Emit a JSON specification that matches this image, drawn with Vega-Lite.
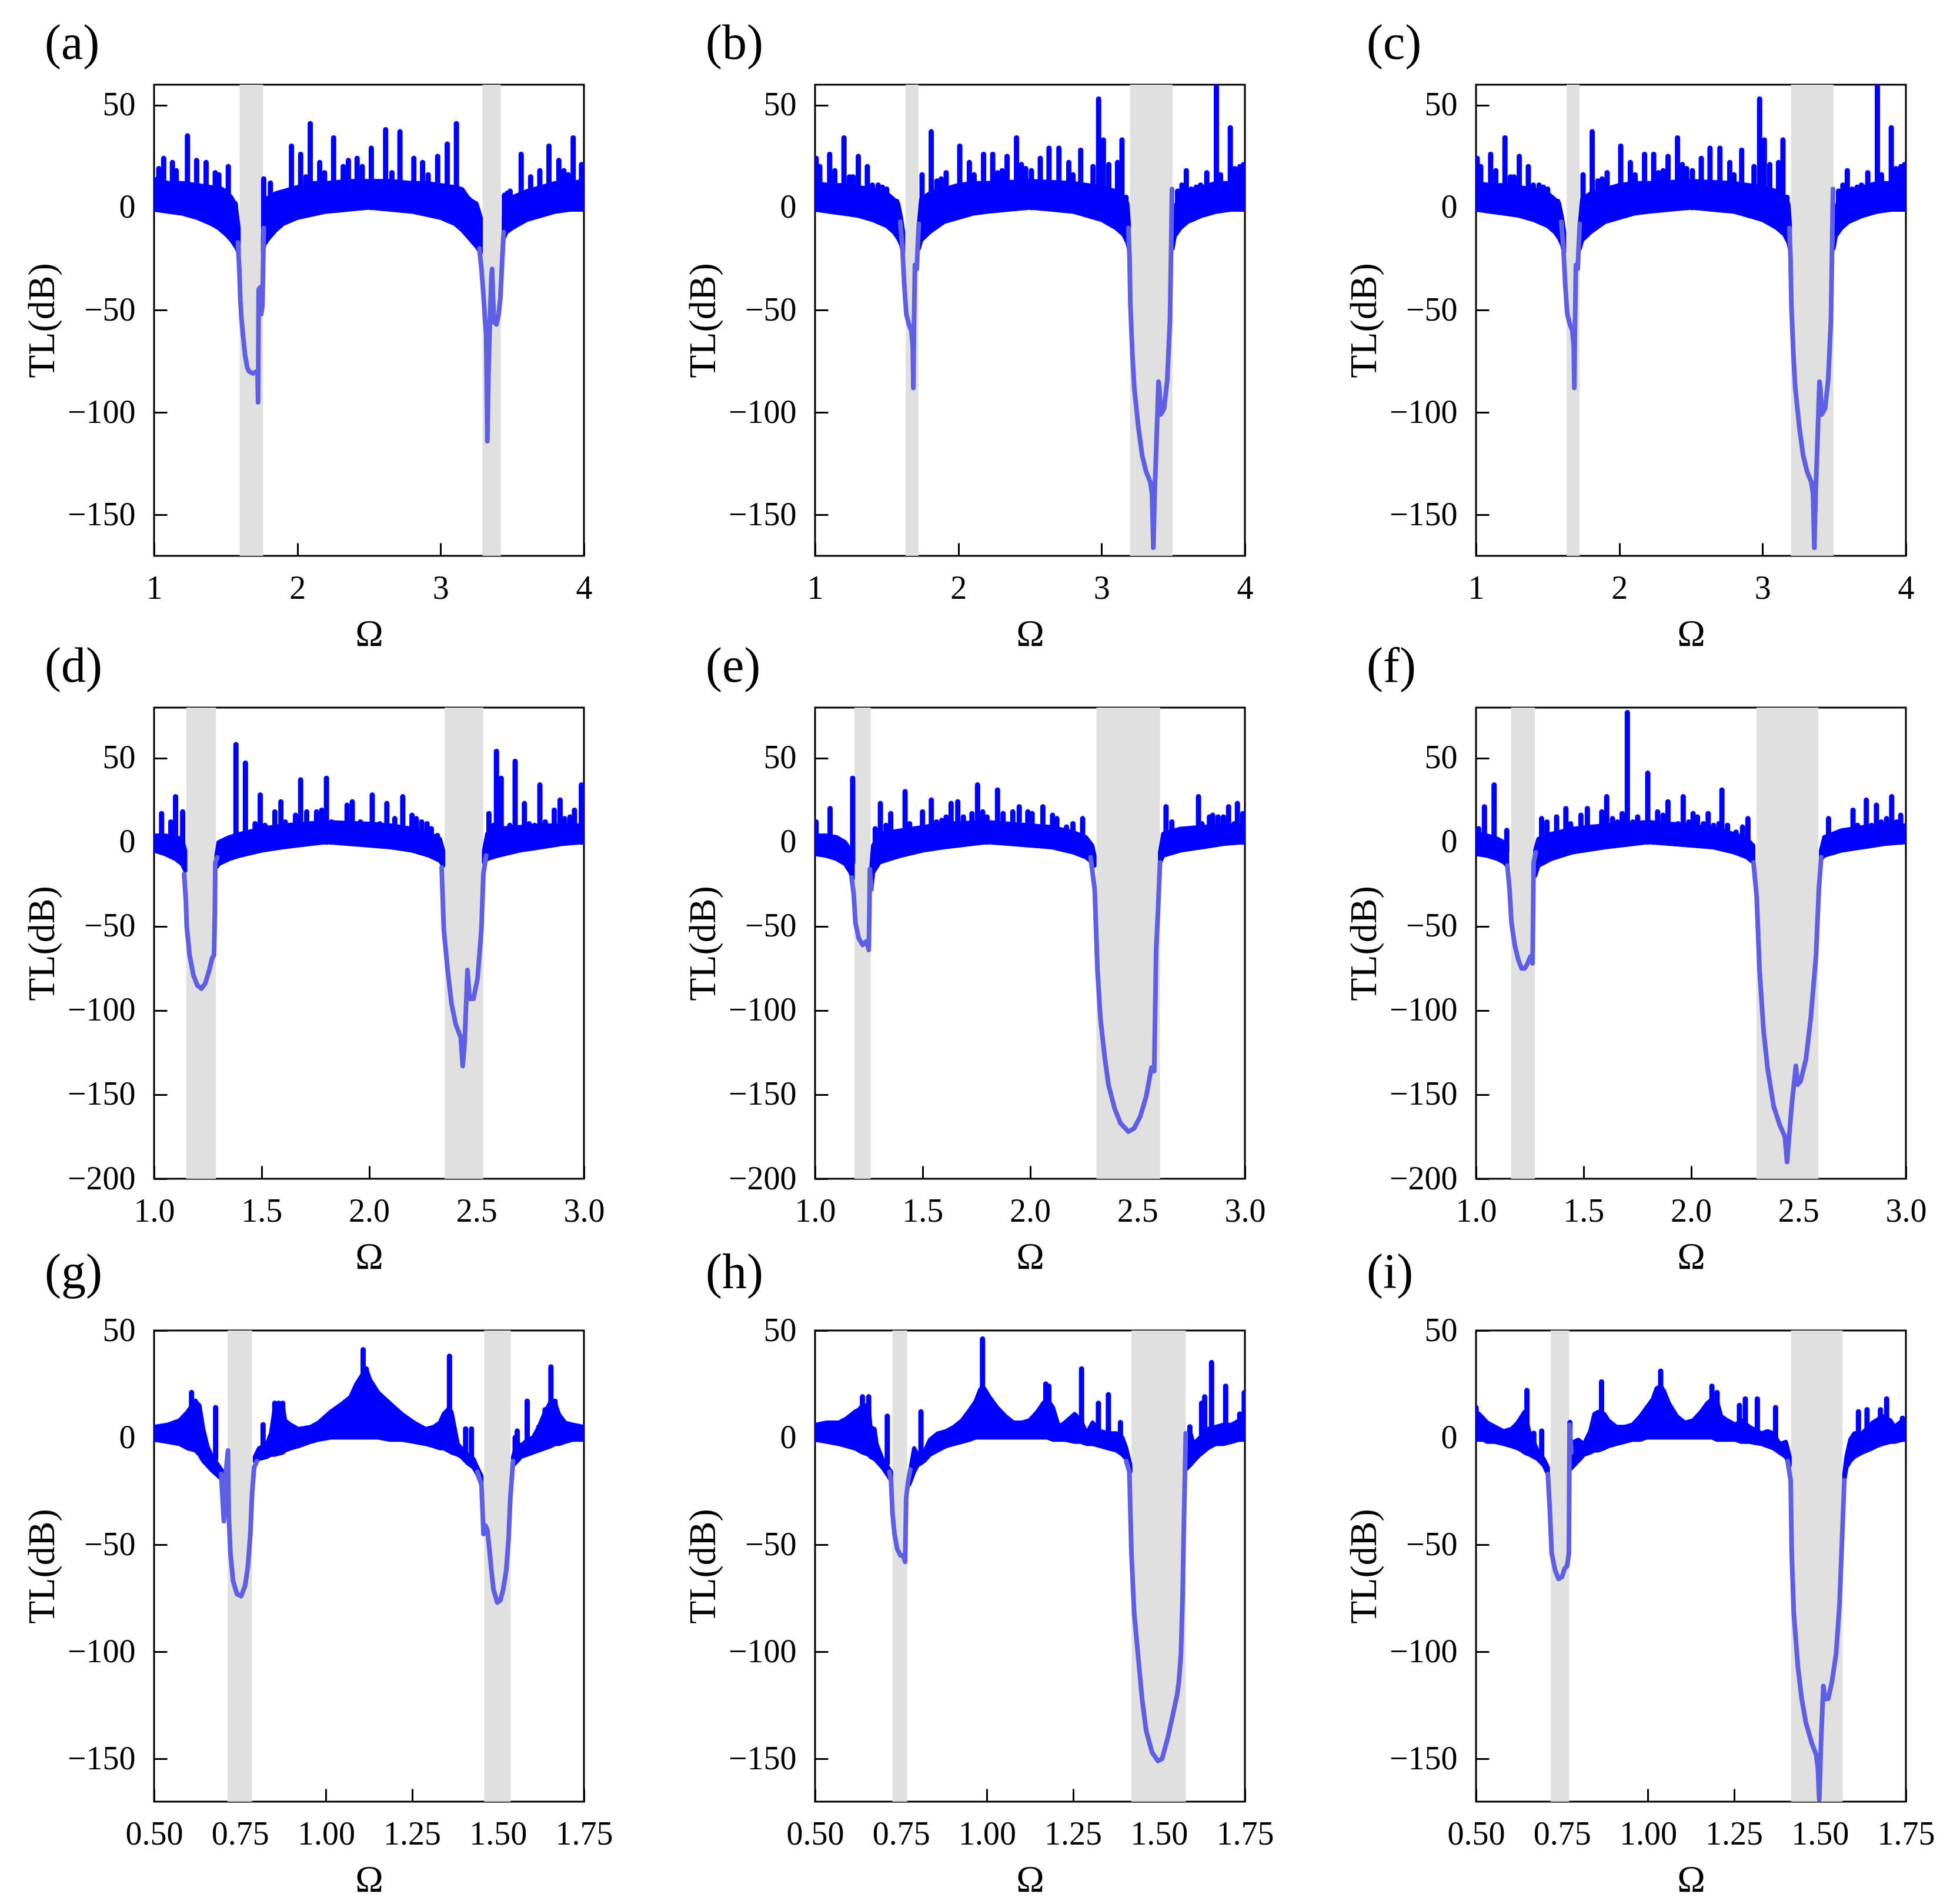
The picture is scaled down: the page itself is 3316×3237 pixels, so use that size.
{
"$schema":"https://vega.github.io/schema/vega-lite/v6.json",
"padding":{"left":38,"top":31,"right":20,"bottom":20},
"background":"white",
"config":{
 "font":"Liberation Serif",
 "view":{"stroke":"#000000","strokeWidth":3},
 "axis":{"domain":false,"grid":false,"tickColor":"#000000","tickWidth":3,"tickSize":-22,"labelFont":"Liberation Serif","labelFontSize":56,"labelColor":"#000000","labelFlush":false,"labelOverlap":false,"titleFont":"Liberation Serif","titleFontSize":64,"titleFontWeight":"normal","titleColor":"#000000"},
 "axisX":{"labelPadding":50,"titlePadding":18},
 "axisY":{"labelPadding":54,"titlePadding":10},
 "title":{"font":"Liberation Serif","fontSize":84,"fontWeight":"normal","color":"#000000","anchor":"start","frame":"group","dx":-186,"offset":26}
},
"datasets":{
"bnd":[
{"p":"a","x":1.597,"x2":1.761},{"p":"a","x":3.292,"x2":3.420},
{"p":"b","x":1.632,"x2":1.722},{"p":"b","x":3.198,"x2":3.495},
{"p":"d","x":1.150,"x2":1.288},{"p":"d","x":2.352,"x2":2.532},
{"p":"e","x":1.183,"x2":1.259},{"p":"e","x":2.309,"x2":2.605},
{"p":"f","x":1.163,"x2":1.274},{"p":"f","x":2.305,"x2":2.593},
{"p":"g","x":0.714,"x2":0.785},{"p":"g","x":1.460,"x2":1.537},
{"p":"h","x":0.725,"x2":0.768},{"p":"h","x":1.420,"x2":1.578},
{"p":"i","x":0.717,"x2":0.771},{"p":"i","x":1.416,"x2":1.566}
],
"env":[
{"p":"a","s":1,"x":1.0,"y":-1,"y2":14},{"p":"a","s":1,"x":1.1,"y":-2,"y2":12},{"p":"a","s":1,"x":1.2,"y":-3,"y2":12},{"p":"a","s":1,"x":1.3,"y":-5,"y2":11},{"p":"a","s":1,"x":1.4,"y":-8,"y2":10},{"p":"a","s":1,"x":1.45,"y":-10,"y2":10},{"p":"a","s":1,"x":1.5,"y":-13,"y2":8},{"p":"a","s":1,"x":1.54,"y":-16,"y2":5},{"p":"a","s":1,"x":1.57,"y":-19,"y2":1},{"p":"a","s":1,"x":1.59,"y":-22,"y2":-10},
{"p":"a","s":2,"x":1.76,"y":-22,"y2":-15},{"p":"a","s":2,"x":1.77,"y":-18,"y2":4},{"p":"a","s":2,"x":1.8,"y":-15,"y2":5},{"p":"a","s":2,"x":1.85,"y":-11,"y2":7},{"p":"a","s":2,"x":1.9,"y":-8,"y2":8},{"p":"a","s":2,"x":2.0,"y":-5,"y2":10},{"p":"a","s":2,"x":2.1,"y":-3.5,"y2":12},{"p":"a","s":2,"x":2.2,"y":-2,"y2":12},{"p":"a","s":2,"x":2.35,"y":-1,"y2":13},{"p":"a","s":2,"x":2.5,"y":0,"y2":13},{"p":"a","s":2,"x":2.65,"y":-1,"y2":13},{"p":"a","s":2,"x":2.8,"y":-2,"y2":12},{"p":"a","s":2,"x":2.9,"y":-3.5,"y2":12},{"p":"a","s":2,"x":3.0,"y":-5,"y2":11},{"p":"a","s":2,"x":3.1,"y":-8,"y2":10},{"p":"a","s":2,"x":3.15,"y":-11,"y2":9},{"p":"a","s":2,"x":3.2,"y":-15,"y2":4},{"p":"a","s":2,"x":3.25,"y":-19,"y2":2},{"p":"a","s":2,"x":3.28,"y":-22,"y2":-5},
{"p":"a","s":3,"x":3.44,"y":-15,"y2":-5},{"p":"a","s":3,"x":3.46,"y":-12,"y2":3},{"p":"a","s":3,"x":3.5,"y":-10,"y2":5},{"p":"a","s":3,"x":3.6,"y":-6,"y2":8},{"p":"a","s":3,"x":3.7,"y":-4,"y2":10},{"p":"a","s":3,"x":3.8,"y":-2,"y2":12},{"p":"a","s":3,"x":3.9,"y":-1,"y2":12},{"p":"a","s":3,"x":4.0,"y":-1,"y2":13},
{"p":"b","s":1,"x":1.0,"y":-1,"y2":12},{"p":"b","s":1,"x":1.1,"y":-2,"y2":11},{"p":"b","s":1,"x":1.2,"y":-3,"y2":11},{"p":"b","s":1,"x":1.3,"y":-4,"y2":10},{"p":"b","s":1,"x":1.4,"y":-6,"y2":9},{"p":"b","s":1,"x":1.5,"y":-9,"y2":7},{"p":"b","s":1,"x":1.55,"y":-12,"y2":4},{"p":"b","s":1,"x":1.58,"y":-15,"y2":2},{"p":"b","s":1,"x":1.6,"y":-18,"y2":-5},{"p":"b","s":1,"x":1.615,"y":-22,"y2":-12},
{"p":"b","s":2,"x":1.725,"y":-20,"y2":-8},{"p":"b","s":2,"x":1.74,"y":-16,"y2":4},{"p":"b","s":2,"x":1.8,"y":-12,"y2":7},{"p":"b","s":2,"x":1.9,"y":-7,"y2":9},{"p":"b","s":2,"x":2.0,"y":-5,"y2":11},{"p":"b","s":2,"x":2.1,"y":-3,"y2":12},{"p":"b","s":2,"x":2.2,"y":-2,"y2":12},{"p":"b","s":2,"x":2.5,"y":0,"y2":13},{"p":"b","s":2,"x":2.8,"y":-2,"y2":12},{"p":"b","s":2,"x":2.9,"y":-4,"y2":11},{"p":"b","s":2,"x":3.0,"y":-6,"y2":10},{"p":"b","s":2,"x":3.1,"y":-10,"y2":8},{"p":"b","s":2,"x":3.15,"y":-13,"y2":5},{"p":"b","s":2,"x":3.18,"y":-17,"y2":2},{"p":"b","s":2,"x":3.19,"y":-20,"y2":-8},
{"p":"b","s":3,"x":3.495,"y":-20,"y2":-10},{"p":"b","s":3,"x":3.51,"y":-14,"y2":0},{"p":"b","s":3,"x":3.55,"y":-10,"y2":6},{"p":"b","s":3,"x":3.6,"y":-7,"y2":8},{"p":"b","s":3,"x":3.7,"y":-4,"y2":10},{"p":"b","s":3,"x":3.8,"y":-2,"y2":12},{"p":"b","s":3,"x":3.9,"y":-1,"y2":12},{"p":"b","s":3,"x":4.0,"y":-1,"y2":13},
{"p":"d","s":1,"x":1.0,"y":-5,"y2":4},{"p":"d","s":1,"x":1.05,"y":-7,"y2":4},{"p":"d","s":1,"x":1.1,"y":-10,"y2":3},{"p":"d","s":1,"x":1.13,"y":-13,"y2":2},{"p":"d","s":1,"x":1.145,"y":-17,"y2":-5},
{"p":"d","s":2,"x":1.29,"y":-15,"y2":-8},{"p":"d","s":2,"x":1.30,"y":-13,"y2":0},{"p":"d","s":2,"x":1.35,"y":-10,"y2":3},{"p":"d","s":2,"x":1.4,"y":-8,"y2":5},{"p":"d","s":2,"x":1.5,"y":-5,"y2":8},{"p":"d","s":2,"x":1.6,"y":-3,"y2":10},{"p":"d","s":2,"x":1.8,"y":0,"y2":12},{"p":"d","s":2,"x":2.0,"y":-2,"y2":11},{"p":"d","s":2,"x":2.1,"y":-3,"y2":10},{"p":"d","s":2,"x":2.2,"y":-5,"y2":8},{"p":"d","s":2,"x":2.28,"y":-8,"y2":5},{"p":"d","s":2,"x":2.33,"y":-11,"y2":2},{"p":"d","s":2,"x":2.345,"y":-14,"y2":-5},
{"p":"d","s":3,"x":2.535,"y":-12,"y2":-5},{"p":"d","s":3,"x":2.55,"y":-10,"y2":5},{"p":"d","s":3,"x":2.6,"y":-8,"y2":8},{"p":"d","s":3,"x":2.7,"y":-5,"y2":9},{"p":"d","s":3,"x":2.8,"y":-3,"y2":10},{"p":"d","s":3,"x":2.9,"y":-1,"y2":10},{"p":"d","s":3,"x":3.0,"y":0,"y2":10},
{"p":"e","s":1,"x":1.0,"y":-7,"y2":4},{"p":"e","s":1,"x":1.05,"y":-8,"y2":4},{"p":"e","s":1,"x":1.1,"y":-10,"y2":3},{"p":"e","s":1,"x":1.14,"y":-13,"y2":0},{"p":"e","s":1,"x":1.165,"y":-18,"y2":-5},{"p":"e","s":1,"x":1.175,"y":-22,"y2":-10},
{"p":"e","s":2,"x":1.262,"y":-28,"y2":-15},{"p":"e","s":2,"x":1.27,"y":-18,"y2":-2},{"p":"e","s":2,"x":1.3,"y":-12,"y2":5},{"p":"e","s":2,"x":1.4,"y":-8,"y2":7},{"p":"e","s":2,"x":1.5,"y":-5,"y2":9},{"p":"e","s":2,"x":1.6,"y":-3,"y2":11},{"p":"e","s":2,"x":1.8,"y":0,"y2":12},{"p":"e","s":2,"x":2.0,"y":-2,"y2":10},{"p":"e","s":2,"x":2.1,"y":-3,"y2":9},{"p":"e","s":2,"x":2.2,"y":-6,"y2":6},{"p":"e","s":2,"x":2.26,"y":-9,"y2":3},{"p":"e","s":2,"x":2.29,"y":-12,"y2":-2},{"p":"e","s":2,"x":2.30,"y":-14,"y2":-8},
{"p":"e","s":3,"x":2.605,"y":-12,"y2":-6},{"p":"e","s":3,"x":2.62,"y":-8,"y2":5},{"p":"e","s":3,"x":2.7,"y":-5,"y2":8},{"p":"e","s":3,"x":2.8,"y":-3,"y2":9},{"p":"e","s":3,"x":2.9,"y":-1,"y2":10},{"p":"e","s":3,"x":3.0,"y":0,"y2":10},
{"p":"f","s":1,"x":1.0,"y":-7,"y2":5},{"p":"f","s":1,"x":1.05,"y":-8,"y2":4},{"p":"f","s":1,"x":1.1,"y":-10,"y2":2},{"p":"f","s":1,"x":1.13,"y":-12,"y2":0},{"p":"f","s":1,"x":1.145,"y":-14,"y2":-3},
{"p":"f","s":2,"x":1.275,"y":-20,"y2":-5},{"p":"f","s":2,"x":1.29,"y":-14,"y2":2},{"p":"f","s":2,"x":1.35,"y":-10,"y2":5},{"p":"f","s":2,"x":1.45,"y":-6,"y2":8},{"p":"f","s":2,"x":1.6,"y":-3,"y2":10},{"p":"f","s":2,"x":1.8,"y":0,"y2":12},{"p":"f","s":2,"x":2.0,"y":-2,"y2":10},{"p":"f","s":2,"x":2.1,"y":-3,"y2":8},{"p":"f","s":2,"x":2.2,"y":-6,"y2":5},{"p":"f","s":2,"x":2.26,"y":-9,"y2":2},{"p":"f","s":2,"x":2.29,"y":-12,"y2":-2},
{"p":"f","s":3,"x":2.605,"y":-10,"y2":-5},{"p":"f","s":3,"x":2.62,"y":-8,"y2":3},{"p":"f","s":3,"x":2.7,"y":-5,"y2":7},{"p":"f","s":3,"x":2.8,"y":-3,"y2":9},{"p":"f","s":3,"x":2.9,"y":-1,"y2":10},{"p":"f","s":3,"x":3.0,"y":0,"y2":10},
{"p":"g","s":1,"x":0.5,"y":-1,"y2":5},{"p":"g","s":1,"x":0.539,"y":-2,"y2":6},{"p":"g","s":1,"x":0.574,"y":-3,"y2":8},{"p":"g","s":1,"x":0.597,"y":-5,"y2":12},{"p":"g","s":1,"x":0.620,"y":-6,"y2":17},{"p":"g","s":1,"x":0.632,"y":-8,"y2":15},{"p":"g","s":1,"x":0.643,"y":-11,"y2":4},{"p":"g","s":1,"x":0.655,"y":-13,"y2":-4},{"p":"g","s":1,"x":0.666,"y":-15,"y2":-8},{"p":"g","s":1,"x":0.687,"y":-18,"y2":-13},{"p":"g","s":1,"x":0.700,"y":-20,"y2":-16},
{"p":"g","s":2,"x":0.793,"y":-11,"y2":-9},{"p":"g","s":2,"x":0.805,"y":-10,"y2":-5},{"p":"g","s":2,"x":0.828,"y":-9,"y2":-3},{"p":"g","s":2,"x":0.840,"y":-8,"y2":2},{"p":"g","s":2,"x":0.851,"y":-8,"y2":14},{"p":"g","s":2,"x":0.874,"y":-7,"y2":15},{"p":"g","s":2,"x":0.881,"y":-6,"y2":8},{"p":"g","s":2,"x":0.897,"y":-5,"y2":6},{"p":"g","s":2,"x":0.920,"y":-4,"y2":4},{"p":"g","s":2,"x":0.955,"y":-2,"y2":5},{"p":"g","s":2,"x":0.978,"y":-1,"y2":7},{"p":"g","s":2,"x":1.013,"y":0,"y2":12},{"p":"g","s":2,"x":1.048,"y":0,"y2":16},{"p":"g","s":2,"x":1.071,"y":0,"y2":19},{"p":"g","s":2,"x":1.088,"y":0,"y2":25},{"p":"g","s":2,"x":1.100,"y":0,"y2":28},{"p":"g","s":2,"x":1.108,"y":0,"y2":30},{"p":"g","s":2,"x":1.117,"y":0,"y2":32},{"p":"g","s":2,"x":1.128,"y":0,"y2":27},{"p":"g","s":2,"x":1.152,"y":0,"y2":21},{"p":"g","s":2,"x":1.186,"y":-1,"y2":16},{"p":"g","s":2,"x":1.221,"y":-1,"y2":11},{"p":"g","s":2,"x":1.256,"y":-2,"y2":7},{"p":"g","s":2,"x":1.290,"y":-3,"y2":4},{"p":"g","s":2,"x":1.313,"y":-4,"y2":5},{"p":"g","s":2,"x":1.331,"y":-5,"y2":7},{"p":"g","s":2,"x":1.342,"y":-5,"y2":11},{"p":"g","s":2,"x":1.354,"y":-6,"y2":13},{"p":"g","s":2,"x":1.365,"y":-7,"y2":12},{"p":"g","s":2,"x":1.383,"y":-8,"y2":-3},{"p":"g","s":2,"x":1.394,"y":-9,"y2":-5},{"p":"g","s":2,"x":1.412,"y":-12,"y2":-8},{"p":"g","s":2,"x":1.429,"y":-14,"y2":-10},{"p":"g","s":2,"x":1.440,"y":-17,"y2":-14},{"p":"g","s":2,"x":1.452,"y":-22,"y2":-18},
{"p":"g","s":3,"x":1.544,"y":-13,"y2":-9},{"p":"g","s":3,"x":1.556,"y":-11,"y2":-2},{"p":"g","s":3,"x":1.567,"y":-9,"y2":-4},{"p":"g","s":3,"x":1.585,"y":-8,"y2":-1},{"p":"g","s":3,"x":1.602,"y":-7,"y2":0},{"p":"g","s":3,"x":1.619,"y":-6,"y2":5},{"p":"g","s":3,"x":1.637,"y":-5,"y2":12},{"p":"g","s":3,"x":1.654,"y":-4,"y2":17},{"p":"g","s":3,"x":1.666,"y":-3,"y2":16},{"p":"g","s":3,"x":1.677,"y":-3,"y2":11},{"p":"g","s":3,"x":1.695,"y":-2,"y2":7},{"p":"g","s":3,"x":1.718,"y":-1,"y2":6},{"p":"g","s":3,"x":1.75,"y":-1,"y2":5},
{"p":"h","s":1,"x":0.5,"y":-1,"y2":6},{"p":"h","s":1,"x":0.535,"y":-2,"y2":7},{"p":"h","s":1,"x":0.569,"y":-3,"y2":7},{"p":"h","s":1,"x":0.592,"y":-4,"y2":9},{"p":"h","s":1,"x":0.615,"y":-5,"y2":12},{"p":"h","s":1,"x":0.627,"y":-6,"y2":13},{"p":"h","s":1,"x":0.638,"y":-7,"y2":15},{"p":"h","s":1,"x":0.656,"y":-8,"y2":15},{"p":"h","s":1,"x":0.661,"y":-9,"y2":5},{"p":"h","s":1,"x":0.673,"y":-10,"y2":4},{"p":"h","s":1,"x":0.679,"y":-11,"y2":-3},{"p":"h","s":1,"x":0.696,"y":-14,"y2":-10},{"p":"h","s":1,"x":0.713,"y":-18,"y2":-14},{"p":"h","s":1,"x":0.721,"y":-20,"y2":-16},
{"p":"h","s":2,"x":0.774,"y":-22,"y2":-18},{"p":"h","s":2,"x":0.788,"y":-16,"y2":-5},{"p":"h","s":2,"x":0.798,"y":-13,"y2":-8},{"p":"h","s":2,"x":0.817,"y":-11,"y2":-7},{"p":"h","s":2,"x":0.834,"y":-8,"y2":-1},{"p":"h","s":2,"x":0.857,"y":-6,"y2":2},{"p":"h","s":2,"x":0.881,"y":-4,"y2":3},{"p":"h","s":2,"x":0.904,"y":-3,"y2":5},{"p":"h","s":2,"x":0.927,"y":-2,"y2":8},{"p":"h","s":2,"x":0.950,"y":-1,"y2":13},{"p":"h","s":2,"x":0.967,"y":0,"y2":17},{"p":"h","s":2,"x":0.979,"y":0,"y2":22},{"p":"h","s":2,"x":0.987,"y":0,"y2":24},{"p":"h","s":2,"x":0.996,"y":0,"y2":22},{"p":"h","s":2,"x":1.007,"y":0,"y2":19},{"p":"h","s":2,"x":1.030,"y":0,"y2":14},{"p":"h","s":2,"x":1.054,"y":0,"y2":10},{"p":"h","s":2,"x":1.077,"y":0,"y2":7},{"p":"h","s":2,"x":1.100,"y":0,"y2":7},{"p":"h","s":2,"x":1.123,"y":0,"y2":8},{"p":"h","s":2,"x":1.146,"y":0,"y2":12},{"p":"h","s":2,"x":1.163,"y":0,"y2":16},{"p":"h","s":2,"x":1.175,"y":0,"y2":18},{"p":"h","s":2,"x":1.192,"y":-1,"y2":14},{"p":"h","s":2,"x":1.209,"y":-1,"y2":5},{"p":"h","s":2,"x":1.226,"y":-1,"y2":7},{"p":"h","s":2,"x":1.255,"y":-2,"y2":11},{"p":"h","s":2,"x":1.273,"y":-2,"y2":8},{"p":"h","s":2,"x":1.290,"y":-3,"y2":2},{"p":"h","s":2,"x":1.307,"y":-3,"y2":7},{"p":"h","s":2,"x":1.330,"y":-4,"y2":3},{"p":"h","s":2,"x":1.353,"y":-5,"y2":2},{"p":"h","s":2,"x":1.376,"y":-6,"y2":2},{"p":"h","s":2,"x":1.394,"y":-8,"y2":0},{"p":"h","s":2,"x":1.405,"y":-10,"y2":-5},{"p":"h","s":2,"x":1.417,"y":-16,"y2":-13},
{"p":"h","s":3,"x":1.578,"y":-15,"y2":-10},{"p":"h","s":3,"x":1.590,"y":-13,"y2":3},{"p":"h","s":3,"x":1.601,"y":-11,"y2":-3},{"p":"h","s":3,"x":1.619,"y":-8,"y2":0},{"p":"h","s":3,"x":1.642,"y":-5,"y2":4},{"p":"h","s":3,"x":1.665,"y":-3,"y2":5},{"p":"h","s":3,"x":1.688,"y":-3,"y2":6},{"p":"h","s":3,"x":1.711,"y":-2,"y2":6},{"p":"h","s":3,"x":1.734,"y":-1,"y2":8},{"p":"h","s":3,"x":1.75,"y":-1,"y2":10},
{"p":"i","s":1,"x":0.5,"y":-1,"y2":12},{"p":"i","s":1,"x":0.509,"y":-1,"y2":11},{"p":"i","s":1,"x":0.521,"y":-1,"y2":9},{"p":"i","s":1,"x":0.533,"y":-2,"y2":7},{"p":"i","s":1,"x":0.556,"y":-2,"y2":5},{"p":"i","s":1,"x":0.580,"y":-3,"y2":3},{"p":"i","s":1,"x":0.603,"y":-4,"y2":4},{"p":"i","s":1,"x":0.621,"y":-5,"y2":7},{"p":"i","s":1,"x":0.633,"y":-6,"y2":10},{"p":"i","s":1,"x":0.641,"y":-7,"y2":12},{"p":"i","s":1,"x":0.656,"y":-8,"y2":2},{"p":"i","s":1,"x":0.679,"y":-10,"y2":-6},{"p":"i","s":1,"x":0.697,"y":-13,"y2":-10},{"p":"i","s":1,"x":0.709,"y":-17,"y2":-14},
{"p":"i","s":2,"x":0.773,"y":-15,"y2":-8},{"p":"i","s":2,"x":0.785,"y":-13,"y2":-2},{"p":"i","s":2,"x":0.797,"y":-11,"y2":-1},{"p":"i","s":2,"x":0.814,"y":-8,"y2":-3},{"p":"i","s":2,"x":0.832,"y":-7,"y2":3},{"p":"i","s":2,"x":0.844,"y":-6,"y2":11},{"p":"i","s":2,"x":0.855,"y":-6,"y2":12},{"p":"i","s":2,"x":0.873,"y":-5,"y2":11},{"p":"i","s":2,"x":0.885,"y":-4,"y2":8},{"p":"i","s":2,"x":0.908,"y":-3,"y2":5},{"p":"i","s":2,"x":0.932,"y":-2,"y2":5},{"p":"i","s":2,"x":0.955,"y":-1,"y2":6},{"p":"i","s":2,"x":0.978,"y":-1,"y2":10},{"p":"i","s":2,"x":0.996,"y":0,"y2":14},{"p":"i","s":2,"x":1.014,"y":0,"y2":18},{"p":"i","s":2,"x":1.025,"y":0,"y2":23},{"p":"i","s":2,"x":1.037,"y":0,"y2":24},{"p":"i","s":2,"x":1.046,"y":0,"y2":22},{"p":"i","s":2,"x":1.061,"y":0,"y2":16},{"p":"i","s":2,"x":1.084,"y":0,"y2":10},{"p":"i","s":2,"x":1.107,"y":0,"y2":7},{"p":"i","s":2,"x":1.131,"y":0,"y2":8},{"p":"i","s":2,"x":1.154,"y":0,"y2":12},{"p":"i","s":2,"x":1.172,"y":0,"y2":16},{"p":"i","s":2,"x":1.186,"y":0,"y2":18},{"p":"i","s":2,"x":1.201,"y":-1,"y2":17},{"p":"i","s":2,"x":1.213,"y":-1,"y2":10},{"p":"i","s":2,"x":1.231,"y":-1,"y2":8},{"p":"i","s":2,"x":1.254,"y":-1,"y2":6},{"p":"i","s":2,"x":1.272,"y":-2,"y2":8},{"p":"i","s":2,"x":1.295,"y":-2,"y2":5},{"p":"i","s":2,"x":1.330,"y":-3,"y2":2},{"p":"i","s":2,"x":1.348,"y":-4,"y2":3},{"p":"i","s":2,"x":1.365,"y":-5,"y2":2},{"p":"i","s":2,"x":1.383,"y":-7,"y2":-3},{"p":"i","s":2,"x":1.401,"y":-9,"y2":-2},{"p":"i","s":2,"x":1.412,"y":-13,"y2":-9},
{"p":"i","s":3,"x":1.571,"y":-20,"y2":-17},{"p":"i","s":3,"x":1.577,"y":-14,"y2":-9},{"p":"i","s":3,"x":1.588,"y":-11,"y2":-1},{"p":"i","s":3,"x":1.600,"y":-9,"y2":2},{"p":"i","s":3,"x":1.623,"y":-7,"y2":2},{"p":"i","s":3,"x":1.653,"y":-5,"y2":7},{"p":"i","s":3,"x":1.664,"y":-4,"y2":8},{"p":"i","s":3,"x":1.682,"y":-3,"y2":10},{"p":"i","s":3,"x":1.705,"y":-2,"y2":8},{"p":"i","s":3,"x":1.717,"y":-2,"y2":5},{"p":"i","s":3,"x":1.740,"y":-1,"y2":8},{"p":"i","s":3,"x":1.75,"y":-1,"y2":6}
],
"spk":[
{"p":"a","x":1.033,"y":19,"y2":0},{"p":"a","x":1.067,"y":24,"y2":0},{"p":"a","x":1.128,"y":22,"y2":0},{"p":"a","x":1.155,"y":18,"y2":0},{"p":"a","x":1.233,"y":35,"y2":0},{"p":"a","x":1.297,"y":23,"y2":0},{"p":"a","x":1.363,"y":22,"y2":0},{"p":"a","x":1.427,"y":17,"y2":0},{"p":"a","x":1.452,"y":16,"y2":0},{"p":"a","x":1.518,"y":20,"y2":0},{"p":"a","x":1.566,"y":2,"y2":-10},
{"p":"a","x":1.765,"y":14,"y2":-10},{"p":"a","x":1.812,"y":12,"y2":0},{"p":"a","x":1.959,"y":30,"y2":0},{"p":"a","x":2.023,"y":26,"y2":0},{"p":"a","x":2.06,"y":15,"y2":0},{"p":"a","x":2.090,"y":41,"y2":0},{"p":"a","x":2.156,"y":22,"y2":0},{"p":"a","x":2.19,"y":17,"y2":0},{"p":"a","x":2.253,"y":34,"y2":0},{"p":"a","x":2.32,"y":20,"y2":0},{"p":"a","x":2.356,"y":23,"y2":0},{"p":"a","x":2.417,"y":24,"y2":0},{"p":"a","x":2.453,"y":20,"y2":0},{"p":"a","x":2.516,"y":29,"y2":0},{"p":"a","x":2.616,"y":38,"y2":0},{"p":"a","x":2.66,"y":17,"y2":0},{"p":"a","x":2.716,"y":37,"y2":0},{"p":"a","x":2.813,"y":24,"y2":0},{"p":"a","x":2.874,"y":22,"y2":0},{"p":"a","x":2.913,"y":16,"y2":0},{"p":"a","x":2.979,"y":25,"y2":0},{"p":"a","x":3.046,"y":31,"y2":0},{"p":"a","x":3.110,"y":41,"y2":0},{"p":"a","x":3.20,"y":4,"y2":-5},
{"p":"a","x":3.445,"y":6,"y2":-8},{"p":"a","x":3.465,"y":7,"y2":-5},{"p":"a","x":3.485,"y":8,"y2":-5},{"p":"a","x":3.562,"y":26,"y2":0},{"p":"a","x":3.628,"y":15,"y2":0},{"p":"a","x":3.692,"y":18,"y2":0},{"p":"a","x":3.756,"y":30,"y2":0},{"p":"a","x":3.825,"y":23,"y2":0},{"p":"a","x":3.86,"y":18,"y2":0},{"p":"a","x":3.89,"y":16,"y2":0},{"p":"a","x":3.925,"y":34,"y2":0},{"p":"a","x":3.983,"y":21,"y2":0},
{"p":"b","x":1.008,"y":24,"y2":0},{"p":"b","x":1.033,"y":20,"y2":0},{"p":"b","x":1.102,"y":26,"y2":0},{"p":"b","x":1.138,"y":18,"y2":0},{"p":"b","x":1.202,"y":34,"y2":0},{"p":"b","x":1.24,"y":15,"y2":0},{"p":"b","x":1.265,"y":15,"y2":0},{"p":"b","x":1.302,"y":25,"y2":0},{"p":"b","x":1.365,"y":20,"y2":0},{"p":"b","x":1.40,"y":11,"y2":0},{"p":"b","x":1.44,"y":11,"y2":0},{"p":"b","x":1.47,"y":10,"y2":0},{"p":"b","x":1.50,"y":9,"y2":0},{"p":"b","x":1.53,"y":3,"y2":-5},{"p":"b","x":1.57,"y":3,"y2":-8},
{"p":"b","x":1.747,"y":16,"y2":-10},{"p":"b","x":1.811,"y":37,"y2":0},{"p":"b","x":1.85,"y":13,"y2":0},{"p":"b","x":1.88,"y":14,"y2":0},{"p":"b","x":1.915,"y":17,"y2":0},{"p":"b","x":2.010,"y":30,"y2":0},{"p":"b","x":2.077,"y":22,"y2":0},{"p":"b","x":2.11,"y":16,"y2":0},{"p":"b","x":2.176,"y":26,"y2":0},{"p":"b","x":2.240,"y":26,"y2":0},{"p":"b","x":2.273,"y":17,"y2":0},{"p":"b","x":2.306,"y":18,"y2":0},{"p":"b","x":2.340,"y":25,"y2":0},{"p":"b","x":2.406,"y":34,"y2":0},{"p":"b","x":2.44,"y":21,"y2":0},{"p":"b","x":2.47,"y":19,"y2":0},{"p":"b","x":2.51,"y":18,"y2":0},{"p":"b","x":2.572,"y":24,"y2":0},{"p":"b","x":2.633,"y":29,"y2":0},{"p":"b","x":2.702,"y":29,"y2":0},{"p":"b","x":2.771,"y":22,"y2":0},{"p":"b","x":2.80,"y":16,"y2":0},{"p":"b","x":2.854,"y":28,"y2":0},{"p":"b","x":2.94,"y":20,"y2":0},{"p":"b","x":2.979,"y":53,"y2":0},{"p":"b","x":3.012,"y":33,"y2":0},{"p":"b","x":3.05,"y":21,"y2":0},{"p":"b","x":3.111,"y":22,"y2":0},{"p":"b","x":3.142,"y":33,"y2":0},{"p":"b","x":3.17,"y":5,"y2":-5},
{"p":"b","x":3.53,"y":8,"y2":-5},{"p":"b","x":3.56,"y":11,"y2":0},{"p":"b","x":3.591,"y":18,"y2":0},{"p":"b","x":3.625,"y":9,"y2":0},{"p":"b","x":3.66,"y":10,"y2":0},{"p":"b","x":3.69,"y":11,"y2":0},{"p":"b","x":3.734,"y":17,"y2":0},{"p":"b","x":3.801,"y":59,"y2":0},{"p":"b","x":3.83,"y":16,"y2":0},{"p":"b","x":3.898,"y":39,"y2":0},{"p":"b","x":3.93,"y":19,"y2":0},{"p":"b","x":3.965,"y":20,"y2":0},{"p":"b","x":3.99,"y":21,"y2":0},
{"p":"d","x":1.035,"y":17,"y2":0},{"p":"d","x":1.078,"y":12,"y2":0},{"p":"d","x":1.100,"y":27,"y2":0},{"p":"d","x":1.133,"y":18,"y2":0},{"p":"d","x":1.381,"y":58,"y2":0},{"p":"d","x":1.425,"y":47,"y2":0},{"p":"d","x":1.47,"y":11,"y2":0},{"p":"d","x":1.494,"y":28,"y2":0},{"p":"d","x":1.516,"y":10,"y2":0},{"p":"d","x":1.562,"y":18,"y2":0},{"p":"d","x":1.590,"y":24,"y2":0},{"p":"d","x":1.61,"y":12,"y2":0},{"p":"d","x":1.658,"y":16,"y2":0},{"p":"d","x":1.682,"y":37,"y2":0},{"p":"d","x":1.710,"y":18,"y2":0},{"p":"d","x":1.756,"y":18,"y2":0},{"p":"d","x":1.78,"y":19,"y2":0},{"p":"d","x":1.802,"y":38,"y2":0},{"p":"d","x":1.826,"y":12,"y2":0},{"p":"d","x":1.898,"y":22,"y2":0},{"p":"d","x":1.922,"y":24,"y2":0},{"p":"d","x":1.96,"y":12,"y2":0},{"p":"d","x":2.015,"y":28,"y2":0},{"p":"d","x":2.05,"y":11,"y2":0},{"p":"d","x":2.083,"y":23,"y2":0},{"p":"d","x":2.12,"y":14,"y2":0},{"p":"d","x":2.157,"y":27,"y2":0},{"p":"d","x":2.2,"y":16,"y2":0},{"p":"d","x":2.22,"y":14,"y2":0},{"p":"d","x":2.245,"y":12,"y2":0},{"p":"d","x":2.27,"y":11,"y2":0},{"p":"d","x":2.29,"y":8,"y2":0},{"p":"d","x":2.318,"y":4,"y2":-5},
{"p":"d","x":2.558,"y":17,"y2":0},{"p":"d","x":2.58,"y":10,"y2":0},{"p":"d","x":2.593,"y":54,"y2":0},{"p":"d","x":2.615,"y":38,"y2":0},{"p":"d","x":2.655,"y":10,"y2":0},{"p":"d","x":2.680,"y":48,"y2":0},{"p":"d","x":2.723,"y":23,"y2":0},{"p":"d","x":2.745,"y":11,"y2":0},{"p":"d","x":2.77,"y":10,"y2":0},{"p":"d","x":2.795,"y":34,"y2":0},{"p":"d","x":2.82,"y":12,"y2":0},{"p":"d","x":2.862,"y":19,"y2":0},{"p":"d","x":2.889,"y":25,"y2":0},{"p":"d","x":2.91,"y":14,"y2":0},{"p":"d","x":2.935,"y":15,"y2":0},{"p":"d","x":2.956,"y":19,"y2":0},{"p":"d","x":2.988,"y":34,"y2":0},
{"p":"e","x":1.005,"y":12,"y2":0},{"p":"e","x":1.070,"y":20,"y2":0},{"p":"e","x":1.175,"y":38,"y2":-12},{"p":"e","x":1.28,"y":8,"y2":-8},{"p":"e","x":1.304,"y":23,"y2":0},{"p":"e","x":1.33,"y":10,"y2":0},{"p":"e","x":1.352,"y":17,"y2":0},{"p":"e","x":1.419,"y":30,"y2":0},{"p":"e","x":1.44,"y":11,"y2":0},{"p":"e","x":1.50,"y":18,"y2":0},{"p":"e","x":1.541,"y":25,"y2":0},{"p":"e","x":1.565,"y":12,"y2":0},{"p":"e","x":1.59,"y":13,"y2":0},{"p":"e","x":1.61,"y":15,"y2":0},{"p":"e","x":1.633,"y":23,"y2":0},{"p":"e","x":1.664,"y":24,"y2":0},{"p":"e","x":1.69,"y":15,"y2":0},{"p":"e","x":1.73,"y":17,"y2":0},{"p":"e","x":1.756,"y":34,"y2":0},{"p":"e","x":1.78,"y":18,"y2":0},{"p":"e","x":1.80,"y":15,"y2":0},{"p":"e","x":1.849,"y":31,"y2":0},{"p":"e","x":1.875,"y":17,"y2":0},{"p":"e","x":1.92,"y":18,"y2":0},{"p":"e","x":1.95,"y":21,"y2":0},{"p":"e","x":1.99,"y":18,"y2":0},{"p":"e","x":2.01,"y":17,"y2":0},{"p":"e","x":2.06,"y":21,"y2":0},{"p":"e","x":2.105,"y":16,"y2":0},{"p":"e","x":2.125,"y":14,"y2":0},{"p":"e","x":2.17,"y":9,"y2":0},{"p":"e","x":2.20,"y":11,"y2":0},{"p":"e","x":2.245,"y":14,"y2":0},
{"p":"e","x":2.633,"y":21,"y2":0},{"p":"e","x":2.66,"y":12,"y2":0},{"p":"e","x":2.784,"y":27,"y2":0},{"p":"e","x":2.80,"y":11,"y2":0},{"p":"e","x":2.835,"y":15,"y2":0},{"p":"e","x":2.85,"y":16,"y2":0},{"p":"e","x":2.875,"y":15,"y2":0},{"p":"e","x":2.9,"y":15,"y2":0},{"p":"e","x":2.924,"y":21,"y2":0},{"p":"e","x":2.95,"y":11,"y2":0},{"p":"e","x":2.965,"y":23,"y2":0},{"p":"e","x":2.99,"y":17,"y2":0},
{"p":"f","x":1.012,"y":8,"y2":0},{"p":"f","x":1.039,"y":21,"y2":0},{"p":"f","x":1.084,"y":34,"y2":0},{"p":"f","x":1.143,"y":7,"y2":-5},{"p":"f","x":1.305,"y":14,"y2":0},{"p":"f","x":1.33,"y":12,"y2":0},{"p":"f","x":1.375,"y":15,"y2":0},{"p":"f","x":1.418,"y":20,"y2":0},{"p":"f","x":1.44,"y":11,"y2":0},{"p":"f","x":1.488,"y":16,"y2":0},{"p":"f","x":1.518,"y":20,"y2":0},{"p":"f","x":1.54,"y":9,"y2":0},{"p":"f","x":1.585,"y":18,"y2":0},{"p":"f","x":1.608,"y":27,"y2":0},{"p":"f","x":1.635,"y":14,"y2":0},{"p":"f","x":1.658,"y":12,"y2":0},{"p":"f","x":1.68,"y":17,"y2":0},{"p":"f","x":1.704,"y":77,"y2":0},{"p":"f","x":1.73,"y":12,"y2":0},{"p":"f","x":1.752,"y":15,"y2":0},{"p":"f","x":1.799,"y":41,"y2":0},{"p":"f","x":1.82,"y":10,"y2":0},{"p":"f","x":1.845,"y":18,"y2":0},{"p":"f","x":1.87,"y":16,"y2":0},{"p":"f","x":1.893,"y":24,"y2":0},{"p":"f","x":1.94,"y":11,"y2":0},{"p":"f","x":1.964,"y":27,"y2":0},{"p":"f","x":1.99,"y":12,"y2":0},{"p":"f","x":2.01,"y":17,"y2":0},{"p":"f","x":2.03,"y":15,"y2":0},{"p":"f","x":2.058,"y":11,"y2":0},{"p":"f","x":2.08,"y":17,"y2":0},{"p":"f","x":2.105,"y":10,"y2":0},{"p":"f","x":2.13,"y":11,"y2":0},{"p":"f","x":2.144,"y":31,"y2":0},{"p":"f","x":2.17,"y":10,"y2":0},{"p":"f","x":2.21,"y":6,"y2":0},{"p":"f","x":2.24,"y":9,"y2":0},{"p":"f","x":2.265,"y":14,"y2":0},
{"p":"f","x":2.64,"y":14,"y2":0},{"p":"f","x":2.754,"y":19,"y2":0},{"p":"f","x":2.775,"y":10,"y2":0},{"p":"f","x":2.816,"y":25,"y2":0},{"p":"f","x":2.84,"y":10,"y2":0},{"p":"f","x":2.863,"y":22,"y2":0},{"p":"f","x":2.885,"y":12,"y2":0},{"p":"f","x":2.91,"y":14,"y2":0},{"p":"f","x":2.934,"y":27,"y2":0},{"p":"f","x":2.956,"y":12,"y2":0},{"p":"f","x":2.976,"y":16,"y2":0},
{"p":"g","x":0.609,"y":21,"y2":5},{"p":"g","x":0.620,"y":17,"y2":5},{"p":"g","x":0.679,"y":14,"y2":-10},{"p":"g","x":0.817,"y":6,"y2":-5},{"p":"g","x":0.851,"y":16,"y2":0},{"p":"g","x":0.862,"y":16,"y2":0},{"p":"g","x":0.874,"y":16,"y2":0},{"p":"g","x":1.108,"y":41,"y2":10},{"p":"g","x":1.117,"y":32,"y2":10},{"p":"g","x":1.359,"y":38,"y2":0},{"p":"g","x":1.406,"y":4,"y2":-8},{"p":"g","x":1.423,"y":4,"y2":-10},{"p":"g","x":1.550,"y":0,"y2":-10},{"p":"g","x":1.556,"y":3,"y2":-8},{"p":"g","x":1.585,"y":17,"y2":-5},{"p":"g","x":1.619,"y":5,"y2":-3},{"p":"g","x":1.637,"y":13,"y2":0},{"p":"g","x":1.654,"y":33,"y2":5},{"p":"g","x":1.666,"y":17,"y2":5},
{"p":"h","x":0.638,"y":19,"y2":5},{"p":"h","x":0.656,"y":19,"y2":5},{"p":"h","x":0.710,"y":10,"y2":-12},{"p":"h","x":0.808,"y":12,"y2":-10},{"p":"h","x":0.987,"y":46,"y2":10},{"p":"h","x":1.171,"y":25,"y2":5},{"p":"h","x":1.180,"y":24,"y2":5},{"p":"h","x":1.275,"y":32,"y2":0},{"p":"h","x":1.324,"y":16,"y2":0},{"p":"h","x":1.353,"y":20,"y2":-2},{"p":"h","x":1.388,"y":7,"y2":-5},{"p":"h","x":1.590,"y":5,"y2":-8},{"p":"h","x":1.624,"y":16,"y2":-5},{"p":"h","x":1.633,"y":19,"y2":-5},{"p":"h","x":1.653,"y":35,"y2":0},{"p":"h","x":1.694,"y":24,"y2":0},{"p":"h","x":1.735,"y":11,"y2":0},{"p":"h","x":1.748,"y":21,"y2":0},
{"p":"i","x":0.500,"y":14,"y2":0},{"p":"i","x":0.648,"y":22,"y2":5},{"p":"i","x":0.668,"y":2,"y2":-8},{"p":"i","x":0.691,"y":3,"y2":-10},{"p":"i","x":0.773,"y":7,"y2":-12},{"p":"i","x":0.865,"y":26,"y2":5},{"p":"i","x":1.037,"y":31,"y2":10},{"p":"i","x":1.186,"y":24,"y2":5},{"p":"i","x":1.201,"y":21,"y2":5},{"p":"i","x":1.266,"y":15,"y2":0},{"p":"i","x":1.283,"y":18,"y2":0},{"p":"i","x":1.318,"y":18,"y2":0},{"p":"i","x":1.371,"y":14,"y2":-3},{"p":"i","x":1.612,"y":12,"y2":-5},{"p":"i","x":1.637,"y":13,"y2":0},{"p":"i","x":1.676,"y":13,"y2":0},{"p":"i","x":1.694,"y":18,"y2":0},{"p":"i","x":1.740,"y":9,"y2":0}
],
"dip":[
{"p":"a","s":1,"x":1.585,"y":-17},{"p":"a","s":1,"x":1.595,"y":-30},{"p":"a","s":1,"x":1.602,"y":-45},{"p":"a","s":1,"x":1.610,"y":-54},{"p":"a","s":1,"x":1.620,"y":-62},{"p":"a","s":1,"x":1.635,"y":-72},{"p":"a","s":1,"x":1.650,"y":-78},{"p":"a","s":1,"x":1.663,"y":-80},{"p":"a","s":1,"x":1.690,"y":-81},{"p":"a","s":1,"x":1.715,"y":-80},{"p":"a","s":1,"x":1.722,"y":-80},{"p":"a","s":1,"x":1.726,"y":-95},{"p":"a","s":1,"x":1.730,"y":-40},{"p":"a","s":1,"x":1.740,"y":-39},{"p":"a","s":1,"x":1.748,"y":-52},{"p":"a","s":1,"x":1.756,"y":-48},{"p":"a","s":1,"x":1.762,"y":-25},{"p":"a","s":1,"x":1.766,"y":-10},
{"p":"a","s":2,"x":3.27,"y":-20},{"p":"a","s":2,"x":3.285,"y":-30},{"p":"a","s":2,"x":3.298,"y":-42},{"p":"a","s":2,"x":3.31,"y":-55},{"p":"a","s":2,"x":3.318,"y":-62},{"p":"a","s":2,"x":3.326,"y":-114},{"p":"a","s":2,"x":3.334,"y":-80},{"p":"a","s":2,"x":3.345,"y":-52},{"p":"a","s":2,"x":3.355,"y":-33},{"p":"a","s":2,"x":3.359,"y":-30},{"p":"a","s":2,"x":3.366,"y":-45},{"p":"a","s":2,"x":3.373,"y":-56},{"p":"a","s":2,"x":3.39,"y":-57},{"p":"a","s":2,"x":3.405,"y":-52},{"p":"a","s":2,"x":3.417,"y":-44},{"p":"a","s":2,"x":3.43,"y":-25},{"p":"a","s":2,"x":3.44,"y":-12},
{"p":"b","s":1,"x":1.595,"y":-7},{"p":"b","s":1,"x":1.610,"y":-20},{"p":"b","s":1,"x":1.623,"y":-38},{"p":"b","s":1,"x":1.637,"y":-52},{"p":"b","s":1,"x":1.655,"y":-57},{"p":"b","s":1,"x":1.672,"y":-60},{"p":"b","s":1,"x":1.682,"y":-68},{"p":"b","s":1,"x":1.686,"y":-88},{"p":"b","s":1,"x":1.690,"y":-60},{"p":"b","s":1,"x":1.697,"y":-28},{"p":"b","s":1,"x":1.710,"y":-30},{"p":"b","s":1,"x":1.716,"y":-20},{"p":"b","s":1,"x":1.724,"y":-8},
{"p":"b","s":2,"x":3.187,"y":-10},{"p":"b","s":2,"x":3.195,"y":-25},{"p":"b","s":2,"x":3.201,"y":-48},{"p":"b","s":2,"x":3.215,"y":-72},{"p":"b","s":2,"x":3.228,"y":-88},{"p":"b","s":2,"x":3.256,"y":-107},{"p":"b","s":2,"x":3.283,"y":-121},{"p":"b","s":2,"x":3.311,"y":-129},{"p":"b","s":2,"x":3.340,"y":-134},{"p":"b","s":2,"x":3.352,"y":-140},{"p":"b","s":2,"x":3.361,"y":-166},{"p":"b","s":2,"x":3.370,"y":-140},{"p":"b","s":2,"x":3.380,"y":-120},{"p":"b","s":2,"x":3.397,"y":-85},{"p":"b","s":2,"x":3.403,"y":-88},{"p":"b","s":2,"x":3.413,"y":-101},{"p":"b","s":2,"x":3.436,"y":-98},{"p":"b","s":2,"x":3.458,"y":-84},{"p":"b","s":2,"x":3.477,"y":-55},{"p":"b","s":2,"x":3.485,"y":-20},{"p":"b","s":2,"x":3.491,"y":9},
{"p":"d","s":1,"x":1.140,"y":-19},{"p":"d","s":1,"x":1.148,"y":-35},{"p":"d","s":1,"x":1.152,"y":-50},{"p":"d","s":1,"x":1.165,"y":-67},{"p":"d","s":1,"x":1.183,"y":-79},{"p":"d","s":1,"x":1.201,"y":-85},{"p":"d","s":1,"x":1.220,"y":-87},{"p":"d","s":1,"x":1.238,"y":-84},{"p":"d","s":1,"x":1.257,"y":-76},{"p":"d","s":1,"x":1.270,"y":-69},{"p":"d","s":1,"x":1.279,"y":-67},{"p":"d","s":1,"x":1.283,"y":-40},{"p":"d","s":1,"x":1.285,"y":-12},{"p":"d","s":1,"x":1.294,"y":-9},
{"p":"d","s":2,"x":2.338,"y":-15},{"p":"d","s":2,"x":2.348,"y":-52},{"p":"d","s":2,"x":2.366,"y":-76},{"p":"d","s":2,"x":2.384,"y":-96},{"p":"d","s":2,"x":2.403,"y":-108},{"p":"d","s":2,"x":2.427,"y":-116},{"p":"d","s":2,"x":2.436,"y":-133},{"p":"d","s":2,"x":2.445,"y":-119},{"p":"d","s":2,"x":2.458,"y":-76},{"p":"d","s":2,"x":2.468,"y":-93},{"p":"d","s":2,"x":2.486,"y":-93},{"p":"d","s":2,"x":2.505,"y":-81},{"p":"d","s":2,"x":2.523,"y":-52},{"p":"d","s":2,"x":2.532,"y":-19},{"p":"d","s":2,"x":2.545,"y":-8},
{"p":"e","s":1,"x":1.170,"y":-21},{"p":"e","s":1,"x":1.180,"y":-31},{"p":"e","s":1,"x":1.188,"y":-48},{"p":"e","s":1,"x":1.203,"y":-57},{"p":"e","s":1,"x":1.221,"y":-61},{"p":"e","s":1,"x":1.238,"y":-59},{"p":"e","s":1,"x":1.246,"y":-62},{"p":"e","s":1,"x":1.250,"y":-64},{"p":"e","s":1,"x":1.253,"y":-40},{"p":"e","s":1,"x":1.255,"y":-16},{"p":"e","s":1,"x":1.262,"y":-28},
{"p":"e","s":2,"x":2.282,"y":-9},{"p":"e","s":2,"x":2.301,"y":-28},{"p":"e","s":2,"x":2.314,"y":-76},{"p":"e","s":2,"x":2.328,"y":-105},{"p":"e","s":2,"x":2.347,"y":-127},{"p":"e","s":2,"x":2.365,"y":-144},{"p":"e","s":2,"x":2.393,"y":-158},{"p":"e","s":2,"x":2.421,"y":-167},{"p":"e","s":2,"x":2.458,"y":-172},{"p":"e","s":2,"x":2.485,"y":-170},{"p":"e","s":2,"x":2.513,"y":-163},{"p":"e","s":2,"x":2.541,"y":-151},{"p":"e","s":2,"x":2.565,"y":-134},{"p":"e","s":2,"x":2.578,"y":-136},{"p":"e","s":2,"x":2.587,"y":-64},{"p":"e","s":2,"x":2.596,"y":-40},{"p":"e","s":2,"x":2.605,"y":-12},
{"p":"f","s":1,"x":1.146,"y":-14},{"p":"f","s":1,"x":1.156,"y":-28},{"p":"f","s":1,"x":1.165,"y":-48},{"p":"f","s":1,"x":1.180,"y":-61},{"p":"f","s":1,"x":1.197,"y":-70},{"p":"f","s":1,"x":1.212,"y":-75},{"p":"f","s":1,"x":1.227,"y":-75},{"p":"f","s":1,"x":1.240,"y":-72},{"p":"f","s":1,"x":1.253,"y":-68},{"p":"f","s":1,"x":1.263,"y":-72},{"p":"f","s":1,"x":1.268,"y":-12},{"p":"f","s":1,"x":1.278,"y":-6},
{"p":"f","s":2,"x":2.291,"y":-12},{"p":"f","s":2,"x":2.306,"y":-33},{"p":"f","s":2,"x":2.319,"y":-76},{"p":"f","s":2,"x":2.338,"y":-112},{"p":"f","s":2,"x":2.356,"y":-134},{"p":"f","s":2,"x":2.385,"y":-157},{"p":"f","s":2,"x":2.413,"y":-168},{"p":"f","s":2,"x":2.437,"y":-175},{"p":"f","s":2,"x":2.447,"y":-190},{"p":"f","s":2,"x":2.456,"y":-176},{"p":"f","s":2,"x":2.469,"y":-156},{"p":"f","s":2,"x":2.488,"y":-133},{"p":"f","s":2,"x":2.497,"y":-144},{"p":"f","s":2,"x":2.510,"y":-142},{"p":"f","s":2,"x":2.535,"y":-129},{"p":"f","s":2,"x":2.557,"y":-105},{"p":"f","s":2,"x":2.582,"y":-67},{"p":"f","s":2,"x":2.595,"y":-28},{"p":"f","s":2,"x":2.606,"y":-9},
{"p":"g","s":1,"x":0.695,"y":-17},{"p":"g","s":1,"x":0.703,"y":-39},{"p":"g","s":1,"x":0.709,"y":-16},{"p":"g","s":1,"x":0.715,"y":-6},{"p":"g","s":1,"x":0.717,"y":-35},{"p":"g","s":1,"x":0.722,"y":-54},{"p":"g","s":1,"x":0.730,"y":-67},{"p":"g","s":1,"x":0.741,"y":-73},{"p":"g","s":1,"x":0.753,"y":-74},{"p":"g","s":1,"x":0.765,"y":-69},{"p":"g","s":1,"x":0.773,"y":-60},{"p":"g","s":1,"x":0.780,"y":-45},{"p":"g","s":1,"x":0.785,"y":-26},{"p":"g","s":1,"x":0.791,"y":-14},{"p":"g","s":1,"x":0.799,"y":-11},
{"p":"g","s":2,"x":1.440,"y":-16},{"p":"g","s":2,"x":1.452,"y":-22},{"p":"g","s":2,"x":1.458,"y":-45},{"p":"g","s":2,"x":1.463,"y":-41},{"p":"g","s":2,"x":1.469,"y":-43},{"p":"g","s":2,"x":1.475,"y":-52},{"p":"g","s":2,"x":1.481,"y":-62},{"p":"g","s":2,"x":1.487,"y":-71},{"p":"g","s":2,"x":1.498,"y":-77},{"p":"g","s":2,"x":1.507,"y":-76},{"p":"g","s":2,"x":1.515,"y":-71},{"p":"g","s":2,"x":1.524,"y":-62},{"p":"g","s":2,"x":1.531,"y":-47},{"p":"g","s":2,"x":1.536,"y":-28},{"p":"g","s":2,"x":1.544,"y":-11},
{"p":"h","s":1,"x":0.716,"y":-16},{"p":"h","s":1,"x":0.721,"y":-20},{"p":"h","s":1,"x":0.725,"y":-35},{"p":"h","s":1,"x":0.731,"y":-45},{"p":"h","s":1,"x":0.739,"y":-52},{"p":"h","s":1,"x":0.748,"y":-55},{"p":"h","s":1,"x":0.756,"y":-55},{"p":"h","s":1,"x":0.762,"y":-58},{"p":"h","s":1,"x":0.765,"y":-28},{"p":"h","s":1,"x":0.771,"y":-20},{"p":"h","s":1,"x":0.777,"y":-15},
{"p":"h","s":2,"x":1.405,"y":-11},{"p":"h","s":2,"x":1.414,"y":-16},{"p":"h","s":2,"x":1.420,"y":-54},{"p":"h","s":2,"x":1.428,"y":-82},{"p":"h","s":2,"x":1.440,"y":-103},{"p":"h","s":2,"x":1.451,"y":-122},{"p":"h","s":2,"x":1.463,"y":-137},{"p":"h","s":2,"x":1.480,"y":-147},{"p":"h","s":2,"x":1.497,"y":-151},{"p":"h","s":2,"x":1.509,"y":-150},{"p":"h","s":2,"x":1.526,"y":-140},{"p":"h","s":2,"x":1.541,"y":-129},{"p":"h","s":2,"x":1.553,"y":-120},{"p":"h","s":2,"x":1.558,"y":-114},{"p":"h","s":2,"x":1.564,"y":-101},{"p":"h","s":2,"x":1.569,"y":-73},{"p":"h","s":2,"x":1.572,"y":-45},{"p":"h","s":2,"x":1.578,"y":2},
{"p":"i","s":1,"x":0.709,"y":-17},{"p":"i","s":1,"x":0.715,"y":-35},{"p":"i","s":1,"x":0.720,"y":-54},{"p":"i","s":1,"x":0.730,"y":-62},{"p":"i","s":1,"x":0.740,"y":-66},{"p":"i","s":1,"x":0.750,"y":-65},{"p":"i","s":1,"x":0.758,"y":-61},{"p":"i","s":1,"x":0.765,"y":-60},{"p":"i","s":1,"x":0.770,"y":-54},{"p":"i","s":1,"x":0.772,"y":6},{"p":"i","s":1,"x":0.777,"y":-7},
{"p":"i","s":2,"x":1.406,"y":-11},{"p":"i","s":2,"x":1.415,"y":-20},{"p":"i","s":2,"x":1.418,"y":-54},{"p":"i","s":2,"x":1.424,"y":-82},{"p":"i","s":2,"x":1.436,"y":-107},{"p":"i","s":2,"x":1.447,"y":-122},{"p":"i","s":2,"x":1.459,"y":-133},{"p":"i","s":2,"x":1.477,"y":-143},{"p":"i","s":2,"x":1.489,"y":-148},{"p":"i","s":2,"x":1.494,"y":-154},{"p":"i","s":2,"x":1.498,"y":-169},{"p":"i","s":2,"x":1.504,"y":-139},{"p":"i","s":2,"x":1.510,"y":-116},{"p":"i","s":2,"x":1.515,"y":-122},{"p":"i","s":2,"x":1.524,"y":-122},{"p":"i","s":2,"x":1.535,"y":-114},{"p":"i","s":2,"x":1.547,"y":-101},{"p":"i","s":2,"x":1.557,"y":-78},{"p":"i","s":2,"x":1.565,"y":-45},{"p":"i","s":2,"x":1.571,"y":-20}
]
},
"columns":3,
"spacing":{"row":258,"column":393},
"bounds":"flush",
"concat":[
{"width":731,"height":801,"title":"(a)",
 "encoding":{"x":{"field":"x","type":"quantitative","title":"Ω","scale":{"domain":[1,4],"nice":false,"zero":false},"axis":{"values":[1,2,3,4],"format":"d"}}},
 "layer":[
  {"data":{"name":"bnd"},"transform":[{"filter":"datum.p==='a'"}],"mark":{"type":"rect","color":"#e0e0e0"},"encoding":{"x2":{"field":"x2"}}},
  {"data":{"name":"env"},"transform":[{"filter":"datum.p==='a'"}],"mark":{"type":"area","color":"#0000ff","stroke":"#0000ff","strokeWidth":7,"strokeJoin":"round","clip":true},"encoding":{"y":{"field":"y","type":"quantitative","title":"TL(dB)","scale":{"domain":[-170,60],"nice":false,"zero":false},"axis":{"values":[50,0,-50,-100,-150]}},"y2":{"field":"y2"},"detail":{"field":"s"}}},
  {"data":{"name":"spk"},"transform":[{"filter":"datum.p==='a'"}],"mark":{"type":"rule","color":"#0000ff","strokeWidth":9,"strokeCap":"round","clip":true},"encoding":{"y":{"field":"y","type":"quantitative","title":"TL(dB)","scale":{"domain":[-170,60],"nice":false,"zero":false}},"y2":{"field":"y2"}}},
  {"data":{"name":"dip"},"transform":[{"filter":"datum.p==='a'"}],"mark":{"type":"line","color":"#5f5fe5","strokeWidth":8,"strokeJoin":"round","strokeCap":"round","clip":true},"encoding":{"y":{"field":"y","type":"quantitative","title":"TL(dB)","scale":{"domain":[-170,60],"nice":false,"zero":false}},"detail":{"field":"s"}}}
 ]},
{"width":731,"height":801,"title":"(b)",
 "encoding":{"x":{"field":"x","type":"quantitative","title":"Ω","scale":{"domain":[1,4],"nice":false,"zero":false},"axis":{"values":[1,2,3,4],"format":"d"}}},
 "layer":[
  {"data":{"name":"bnd"},"transform":[{"filter":"datum.p==='b'"}],"mark":{"type":"rect","color":"#e0e0e0"},"encoding":{"x2":{"field":"x2"}}},
  {"data":{"name":"env"},"transform":[{"filter":"datum.p==='b'"}],"mark":{"type":"area","color":"#0000ff","stroke":"#0000ff","strokeWidth":7,"strokeJoin":"round","clip":true},"encoding":{"y":{"field":"y","type":"quantitative","title":"TL(dB)","scale":{"domain":[-170,60],"nice":false,"zero":false},"axis":{"values":[50,0,-50,-100,-150]}},"y2":{"field":"y2"},"detail":{"field":"s"}}},
  {"data":{"name":"spk"},"transform":[{"filter":"datum.p==='b'"}],"mark":{"type":"rule","color":"#0000ff","strokeWidth":9,"strokeCap":"round","clip":true},"encoding":{"y":{"field":"y","type":"quantitative","title":"TL(dB)","scale":{"domain":[-170,60],"nice":false,"zero":false}},"y2":{"field":"y2"}}},
  {"data":{"name":"dip"},"transform":[{"filter":"datum.p==='b'"}],"mark":{"type":"line","color":"#5f5fe5","strokeWidth":8,"strokeJoin":"round","strokeCap":"round","clip":true},"encoding":{"y":{"field":"y","type":"quantitative","title":"TL(dB)","scale":{"domain":[-170,60],"nice":false,"zero":false}},"detail":{"field":"s"}}}
 ]},
{"width":731,"height":801,"title":"(c)",
 "encoding":{"x":{"field":"x","type":"quantitative","title":"Ω","scale":{"domain":[1,4],"nice":false,"zero":false},"axis":{"values":[1,2,3,4],"format":"d"}}},
 "layer":[
  {"data":{"name":"bnd"},"transform":[{"filter":"datum.p==='b'"}],"mark":{"type":"rect","color":"#e0e0e0"},"encoding":{"x2":{"field":"x2"}}},
  {"data":{"name":"env"},"transform":[{"filter":"datum.p==='b'"}],"mark":{"type":"area","color":"#0000ff","stroke":"#0000ff","strokeWidth":7,"strokeJoin":"round","clip":true},"encoding":{"y":{"field":"y","type":"quantitative","title":"TL(dB)","scale":{"domain":[-170,60],"nice":false,"zero":false},"axis":{"values":[50,0,-50,-100,-150]}},"y2":{"field":"y2"},"detail":{"field":"s"}}},
  {"data":{"name":"spk"},"transform":[{"filter":"datum.p==='b'"}],"mark":{"type":"rule","color":"#0000ff","strokeWidth":9,"strokeCap":"round","clip":true},"encoding":{"y":{"field":"y","type":"quantitative","title":"TL(dB)","scale":{"domain":[-170,60],"nice":false,"zero":false}},"y2":{"field":"y2"}}},
  {"data":{"name":"dip"},"transform":[{"filter":"datum.p==='b'"}],"mark":{"type":"line","color":"#5f5fe5","strokeWidth":8,"strokeJoin":"round","strokeCap":"round","clip":true},"encoding":{"y":{"field":"y","type":"quantitative","title":"TL(dB)","scale":{"domain":[-170,60],"nice":false,"zero":false}},"detail":{"field":"s"}}}
 ]},
{"width":731,"height":801,"title":"(d)",
 "encoding":{"x":{"field":"x","type":"quantitative","title":"Ω","scale":{"domain":[1,3],"nice":false,"zero":false},"axis":{"values":[1,1.5,2,2.5,3],"format":".1f"}}},
 "layer":[
  {"data":{"name":"bnd"},"transform":[{"filter":"datum.p==='d'"}],"mark":{"type":"rect","color":"#e0e0e0"},"encoding":{"x2":{"field":"x2"}}},
  {"data":{"name":"env"},"transform":[{"filter":"datum.p==='d'"}],"mark":{"type":"area","color":"#0000ff","stroke":"#0000ff","strokeWidth":7,"strokeJoin":"round","clip":true},"encoding":{"y":{"field":"y","type":"quantitative","title":"TL(dB)","scale":{"domain":[-200,80],"nice":false,"zero":false},"axis":{"values":[50,0,-50,-100,-150,-200]}},"y2":{"field":"y2"},"detail":{"field":"s"}}},
  {"data":{"name":"spk"},"transform":[{"filter":"datum.p==='d'"}],"mark":{"type":"rule","color":"#0000ff","strokeWidth":9,"strokeCap":"round","clip":true},"encoding":{"y":{"field":"y","type":"quantitative","title":"TL(dB)","scale":{"domain":[-200,80],"nice":false,"zero":false}},"y2":{"field":"y2"}}},
  {"data":{"name":"dip"},"transform":[{"filter":"datum.p==='d'"}],"mark":{"type":"line","color":"#5f5fe5","strokeWidth":8,"strokeJoin":"round","strokeCap":"round","clip":true},"encoding":{"y":{"field":"y","type":"quantitative","title":"TL(dB)","scale":{"domain":[-200,80],"nice":false,"zero":false}},"detail":{"field":"s"}}}
 ]},
{"width":731,"height":801,"title":"(e)",
 "encoding":{"x":{"field":"x","type":"quantitative","title":"Ω","scale":{"domain":[1,3],"nice":false,"zero":false},"axis":{"values":[1,1.5,2,2.5,3],"format":".1f"}}},
 "layer":[
  {"data":{"name":"bnd"},"transform":[{"filter":"datum.p==='e'"}],"mark":{"type":"rect","color":"#e0e0e0"},"encoding":{"x2":{"field":"x2"}}},
  {"data":{"name":"env"},"transform":[{"filter":"datum.p==='e'"}],"mark":{"type":"area","color":"#0000ff","stroke":"#0000ff","strokeWidth":7,"strokeJoin":"round","clip":true},"encoding":{"y":{"field":"y","type":"quantitative","title":"TL(dB)","scale":{"domain":[-200,80],"nice":false,"zero":false},"axis":{"values":[50,0,-50,-100,-150,-200]}},"y2":{"field":"y2"},"detail":{"field":"s"}}},
  {"data":{"name":"spk"},"transform":[{"filter":"datum.p==='e'"}],"mark":{"type":"rule","color":"#0000ff","strokeWidth":9,"strokeCap":"round","clip":true},"encoding":{"y":{"field":"y","type":"quantitative","title":"TL(dB)","scale":{"domain":[-200,80],"nice":false,"zero":false}},"y2":{"field":"y2"}}},
  {"data":{"name":"dip"},"transform":[{"filter":"datum.p==='e'"}],"mark":{"type":"line","color":"#5f5fe5","strokeWidth":8,"strokeJoin":"round","strokeCap":"round","clip":true},"encoding":{"y":{"field":"y","type":"quantitative","title":"TL(dB)","scale":{"domain":[-200,80],"nice":false,"zero":false}},"detail":{"field":"s"}}}
 ]},
{"width":731,"height":801,"title":"(f)",
 "encoding":{"x":{"field":"x","type":"quantitative","title":"Ω","scale":{"domain":[1,3],"nice":false,"zero":false},"axis":{"values":[1,1.5,2,2.5,3],"format":".1f"}}},
 "layer":[
  {"data":{"name":"bnd"},"transform":[{"filter":"datum.p==='f'"}],"mark":{"type":"rect","color":"#e0e0e0"},"encoding":{"x2":{"field":"x2"}}},
  {"data":{"name":"env"},"transform":[{"filter":"datum.p==='f'"}],"mark":{"type":"area","color":"#0000ff","stroke":"#0000ff","strokeWidth":7,"strokeJoin":"round","clip":true},"encoding":{"y":{"field":"y","type":"quantitative","title":"TL(dB)","scale":{"domain":[-200,80],"nice":false,"zero":false},"axis":{"values":[50,0,-50,-100,-150,-200]}},"y2":{"field":"y2"},"detail":{"field":"s"}}},
  {"data":{"name":"spk"},"transform":[{"filter":"datum.p==='f'"}],"mark":{"type":"rule","color":"#0000ff","strokeWidth":9,"strokeCap":"round","clip":true},"encoding":{"y":{"field":"y","type":"quantitative","title":"TL(dB)","scale":{"domain":[-200,80],"nice":false,"zero":false}},"y2":{"field":"y2"}}},
  {"data":{"name":"dip"},"transform":[{"filter":"datum.p==='f'"}],"mark":{"type":"line","color":"#5f5fe5","strokeWidth":8,"strokeJoin":"round","strokeCap":"round","clip":true},"encoding":{"y":{"field":"y","type":"quantitative","title":"TL(dB)","scale":{"domain":[-200,80],"nice":false,"zero":false}},"detail":{"field":"s"}}}
 ]},
{"width":731,"height":801,"title":"(g)",
 "encoding":{"x":{"field":"x","type":"quantitative","title":"Ω","scale":{"domain":[0.5,1.75],"nice":false,"zero":false},"axis":{"values":[0.5,0.75,1,1.25,1.5,1.75],"format":".2f"}}},
 "layer":[
  {"data":{"name":"bnd"},"transform":[{"filter":"datum.p==='g'"}],"mark":{"type":"rect","color":"#e0e0e0"},"encoding":{"x2":{"field":"x2"}}},
  {"data":{"name":"env"},"transform":[{"filter":"datum.p==='g'"}],"mark":{"type":"area","color":"#0000ff","stroke":"#0000ff","strokeWidth":7,"strokeJoin":"round","clip":true},"encoding":{"y":{"field":"y","type":"quantitative","title":"TL(dB)","scale":{"domain":[-170,50],"nice":false,"zero":false},"axis":{"values":[50,0,-50,-100,-150]}},"y2":{"field":"y2"},"detail":{"field":"s"}}},
  {"data":{"name":"spk"},"transform":[{"filter":"datum.p==='g'"}],"mark":{"type":"rule","color":"#0000ff","strokeWidth":9,"strokeCap":"round","clip":true},"encoding":{"y":{"field":"y","type":"quantitative","title":"TL(dB)","scale":{"domain":[-170,50],"nice":false,"zero":false}},"y2":{"field":"y2"}}},
  {"data":{"name":"dip"},"transform":[{"filter":"datum.p==='g'"}],"mark":{"type":"line","color":"#5f5fe5","strokeWidth":8,"strokeJoin":"round","strokeCap":"round","clip":true},"encoding":{"y":{"field":"y","type":"quantitative","title":"TL(dB)","scale":{"domain":[-170,50],"nice":false,"zero":false}},"detail":{"field":"s"}}}
 ]},
{"width":731,"height":801,"title":"(h)",
 "encoding":{"x":{"field":"x","type":"quantitative","title":"Ω","scale":{"domain":[0.5,1.75],"nice":false,"zero":false},"axis":{"values":[0.5,0.75,1,1.25,1.5,1.75],"format":".2f"}}},
 "layer":[
  {"data":{"name":"bnd"},"transform":[{"filter":"datum.p==='h'"}],"mark":{"type":"rect","color":"#e0e0e0"},"encoding":{"x2":{"field":"x2"}}},
  {"data":{"name":"env"},"transform":[{"filter":"datum.p==='h'"}],"mark":{"type":"area","color":"#0000ff","stroke":"#0000ff","strokeWidth":7,"strokeJoin":"round","clip":true},"encoding":{"y":{"field":"y","type":"quantitative","title":"TL(dB)","scale":{"domain":[-170,50],"nice":false,"zero":false},"axis":{"values":[50,0,-50,-100,-150]}},"y2":{"field":"y2"},"detail":{"field":"s"}}},
  {"data":{"name":"spk"},"transform":[{"filter":"datum.p==='h'"}],"mark":{"type":"rule","color":"#0000ff","strokeWidth":9,"strokeCap":"round","clip":true},"encoding":{"y":{"field":"y","type":"quantitative","title":"TL(dB)","scale":{"domain":[-170,50],"nice":false,"zero":false}},"y2":{"field":"y2"}}},
  {"data":{"name":"dip"},"transform":[{"filter":"datum.p==='h'"}],"mark":{"type":"line","color":"#5f5fe5","strokeWidth":8,"strokeJoin":"round","strokeCap":"round","clip":true},"encoding":{"y":{"field":"y","type":"quantitative","title":"TL(dB)","scale":{"domain":[-170,50],"nice":false,"zero":false}},"detail":{"field":"s"}}}
 ]},
{"width":731,"height":801,"title":"(i)",
 "encoding":{"x":{"field":"x","type":"quantitative","title":"Ω","scale":{"domain":[0.5,1.75],"nice":false,"zero":false},"axis":{"values":[0.5,0.75,1,1.25,1.5,1.75],"format":".2f"}}},
 "layer":[
  {"data":{"name":"bnd"},"transform":[{"filter":"datum.p==='i'"}],"mark":{"type":"rect","color":"#e0e0e0"},"encoding":{"x2":{"field":"x2"}}},
  {"data":{"name":"env"},"transform":[{"filter":"datum.p==='i'"}],"mark":{"type":"area","color":"#0000ff","stroke":"#0000ff","strokeWidth":7,"strokeJoin":"round","clip":true},"encoding":{"y":{"field":"y","type":"quantitative","title":"TL(dB)","scale":{"domain":[-170,50],"nice":false,"zero":false},"axis":{"values":[50,0,-50,-100,-150]}},"y2":{"field":"y2"},"detail":{"field":"s"}}},
  {"data":{"name":"spk"},"transform":[{"filter":"datum.p==='i'"}],"mark":{"type":"rule","color":"#0000ff","strokeWidth":9,"strokeCap":"round","clip":true},"encoding":{"y":{"field":"y","type":"quantitative","title":"TL(dB)","scale":{"domain":[-170,50],"nice":false,"zero":false}},"y2":{"field":"y2"}}},
  {"data":{"name":"dip"},"transform":[{"filter":"datum.p==='i'"}],"mark":{"type":"line","color":"#5f5fe5","strokeWidth":8,"strokeJoin":"round","strokeCap":"round","clip":true},"encoding":{"y":{"field":"y","type":"quantitative","title":"TL(dB)","scale":{"domain":[-170,50],"nice":false,"zero":false}},"detail":{"field":"s"}}}
 ]}
]
}
